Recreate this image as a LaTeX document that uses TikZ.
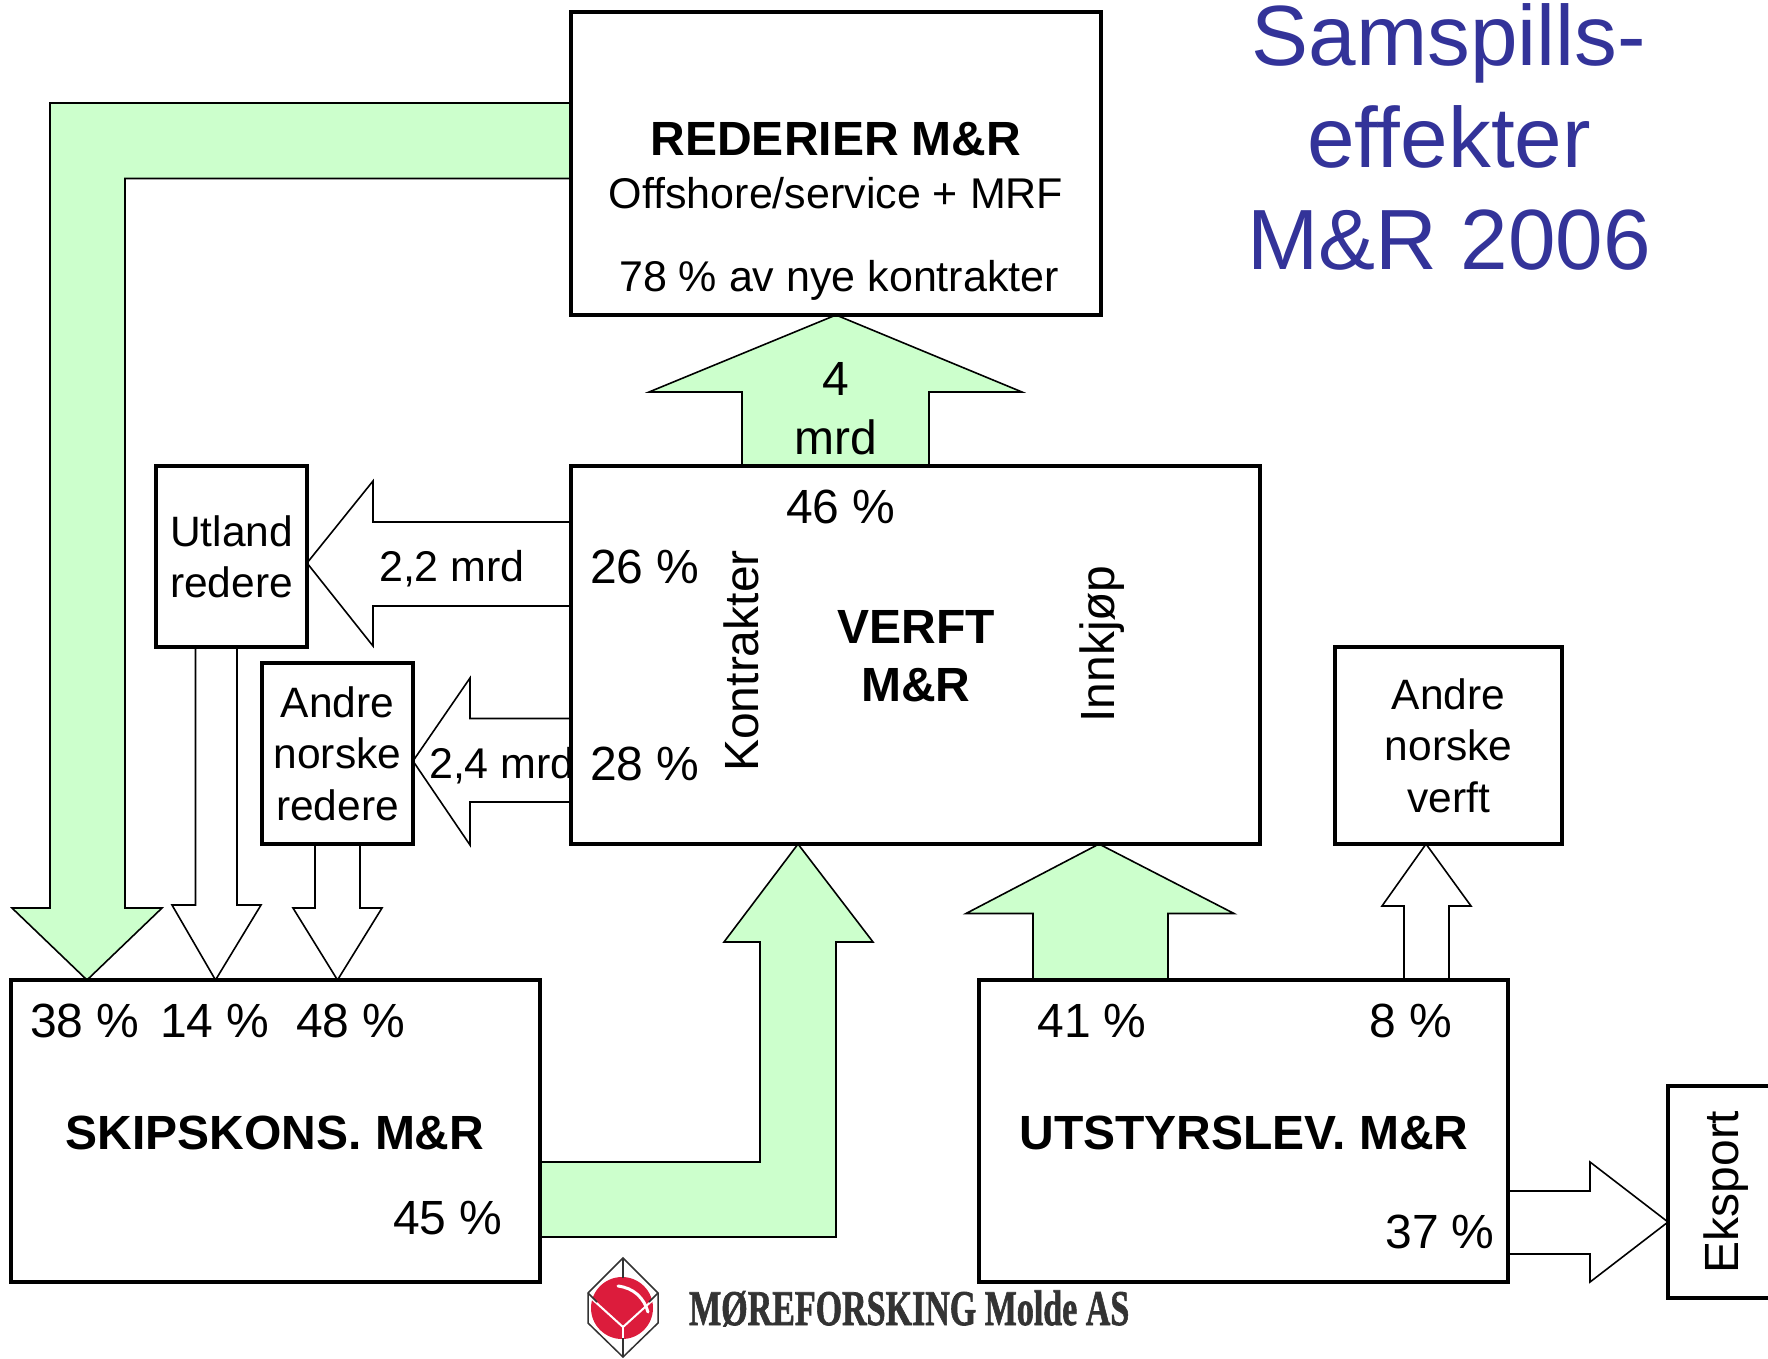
\documentclass[tikz,border=0pt]{standalone}
\usepackage{graphicx,
			fontspec
			}
\setmainfont[Ligatures = NoCommon]{Liberation Sans}
\newfontfamily\logofont[FakeBold=1.6]{Liberation Serif}
\usetikzlibrary{backgrounds}
\definecolor{flowgreen}{HTML}{CCFFCC}
\definecolor{titleblue}{HTML}{333399}
\definecolor{logored}{HTML}{DC1C3C}
\definecolor{logogray}{HTML}{333333}
\tikzset{
	box/.style = {draw, fill = white, line width = 3.8pt, inner sep = 0pt, outer sep = 0pt, align = center, font = \fontsize{42.5}{51.3}\selectfont},
	greenflow/.style = {draw, fill = flowgreen, line width = 1.6pt, line join = miter},
	whiteflow/.style = {draw, fill = white, line width = 1.6pt, line join = miter},
	lbl/.style = {inner sep = 0pt, anchor = base, font = \fontsize{48}{51}\selectfont},
	smalllbl/.style = {lbl, font = \fontsize{43}{51}\selectfont},
	boldlbl/.style = {lbl, font = \fontsize{48}{51}\bfseries\selectfont},
	title/.style = {inner sep = 0pt, anchor = base, text = titleblue, font = \fontsize{85.5}{102}\selectfont}
}

\begin{document}
\begin{tikzpicture}[x = 1pt, y = -1pt]
	\useasboundingbox (0,0) rectangle (1768,1358);
	\node[box, minimum width = 530pt, minimum height = 303pt] (rederier) at (836,163.5) {};
	\node[box, minimum width = 689pt, minimum height = 378pt] (verft) at (915.5,655) {};
	\node[box, minimum width = 529pt, minimum height = 302pt] (skipskons) at (275.5,1131) {};
	\node[box, minimum width = 529pt, minimum height = 302pt] (utstyr) at (1243.5,1131) {};
	\node[box, minimum width = 151pt, minimum height = 181pt] (utland) at (231.5,556.5) {Utland\\redere};
	\node[box, minimum width = 151pt, minimum height = 181pt] (andreredere) at (337.5,753.5) {Andre\\norske\\redere};
	\node[box, minimum width = 227pt, minimum height = 197pt] (andreverft) at (1448.5,745.5) {Andre\\norske\\verft};
	\node[box, minimum width = 140pt, minimum height = 212pt] (eksport) at (1738,1192) {};

	\begin{scope}[on background layer]
		\draw[greenflow] (rederier.west |- 0,103) -- (50,103) -- (50,908) -- (12,908) -- (skipskons.north -| 87,0) -- (162,908) -- (125,908) -- (125,178.5) -- (rederier.west |- 0,178.5);
		\draw[greenflow] (742,466) -- (742,392) -- (649,392) -- (rederier.south) -- (1022,392) -- (929,392) -- (929,466);
		\draw[whiteflow] (verft.west |- 0,522) -- (373,522) -- (373,481) -- (utland.east |- 0,563) -- (373,646) -- (373,606) -- (verft.west |- 0,606);
		\draw[whiteflow] (verft.west |- 0,718.5) -- (470,718.5) -- (470,678) -- (andreredere.east |- 0,761) -- (470,845) -- (470,802) -- (verft.west |- 0,802);
		\node[smalllbl] (label24) at (502,778) {2,4 mrd};
		\draw[whiteflow] (195.5,647) -- (195.5,905) -- (172,905) -- (skipskons.north -| 215.5,0) -- (261,905) -- (237,905) -- (237,647);
		\draw[whiteflow] (315,844) -- (315,908) -- (293,908) -- (skipskons.north -| andreredere.south) -- (382,908) -- (360,908) -- (360,844);
		\draw[greenflow] (skipskons.east |- 0,1162) -- (760,1162) -- (760,942) -- (724,942) -- (verft.south -| 798,0) -- (873,942) -- (836,942) -- (836,1237) -- (skipskons.east |- 0,1237);
		\draw[greenflow] (1033,980) -- (1033,913.5) -- (966,913.5) -- (verft.south -| 1099,0) -- (1234,913.5) -- (1168,913.5) -- (1168,980);
		\draw[whiteflow] (1404,980) -- (1404,906) -- (1382,906) -- (andreverft.south -| 1426,0) -- (1471,906) -- (1449,906) -- (1449,980);
		\draw[whiteflow] (utstyr.east |- 0,1191) -- (1590,1191) -- (1590,1162) -- (eksport.west |- 0,1222) -- (1590,1282) -- (1590,1254) -- (utstyr.east |- 0,1254);
	\end{scope}

	\node[title] (title1) at (1449,65) {Samspills-};
	\node[title] (title2) at (1449,167.5) {effekter};
	\node[title] (title3) at (1449,269) {M\&R 2006};

	\node[boldlbl] (rederiername) at (836,155) {REDERIER M\&R};
	\node[smalllbl] (rederiertype) at (836,208.5) {Offshore/service + MRF};
	\node[smalllbl] (rederierpct) at (839,291) {78 \% av nye kontrakter};

	\node[lbl] (amount4) at (836,395) {4};
	\node[lbl] (amountmrd) at (836,454) {mrd};
	\node[lbl] (pct46) at (841,523) {46 \%};
	\node[lbl] (pct26) at (645,583) {26 \%};
	\node[lbl] (pct28) at (645,780) {28 \%};
	\node[smalllbl] (label22) at (452,581) {2,2 mrd};
	\node[lbl, rotate = 90] (kontrakter) at (758,661) {Kontrakter};
	\node[lbl, rotate = 90] (innkjop) at (1114,644) {Innkjøp};
	\node[boldlbl] (verftname1) at (916,643) {VERFT};
	\node[boldlbl] (verftname2) at (916,701) {M\&R};

	\node[lbl] (pct38) at (85,1037) {38 \%};
	\node[lbl] (pct14) at (215,1037) {14 \%};
	\node[lbl] (pct48) at (351,1037) {48 \%};
	\node[boldlbl] (skipsname) at (275,1149) {SKIPSKONS. M\&R};
	\node[lbl] (pct45) at (448,1234) {45 \%};

	\node[lbl] (pct41) at (1092,1037) {41 \%};
	\node[lbl] (pct8) at (1411,1037) {8 \%};
	\node[boldlbl] (utstyrname) at (1244,1149) {UTSTYRSLEV. M\&R};
	\node[lbl] (pct37) at (1440,1248) {37 \%};
	\node[lbl, rotate = 90] (eksporttext) at (1738,1192) {Eksport};

	\fill[logored] (622,1308) circle(31pt);
	\draw[white, line width = 2pt] (591,1298) -- (623,1327) -- (655,1298);
	\draw[white, line width = 2pt] (623,1327) -- (623,1340);
	\draw[white, line width = 3pt, line cap = round] (618,1286) .. controls (634,1288) and (644,1298) .. (648,1312);
	\draw[line width = 1.5pt, black!80] (623,1258) -- (658,1293) -- (658,1323) -- (623,1357) -- (588,1323) -- (588,1293) -- cycle;
	\draw[line width = 1.5pt, black!80] (623,1258) -- (623,1278);
	\draw[line width = 1.5pt, black!80] (623,1338) -- (623,1357);
	\draw[line width = 1.5pt, black!80] (588,1293) -- (597,1302);
	\draw[line width = 1.5pt, black!80] (658,1293) -- (649,1302);
	\node[inner sep = 0pt, anchor = base west, text = logogray, xscale = 0.68, transform shape, font = \fontsize{50}{50}\logofont\bfseries\selectfont] (logotext) at (689,1325) {MØREFORSKING Molde AS};
\end{tikzpicture}
\end{document}
